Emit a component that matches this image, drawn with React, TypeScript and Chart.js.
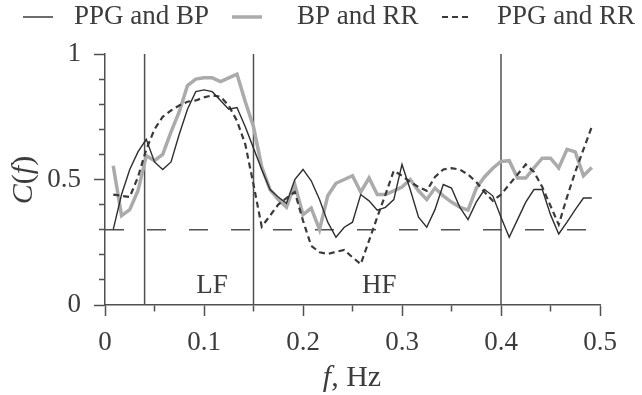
import { useEffect, useRef } from 'react';
import { Chart, registerables } from 'chart.js';

Chart.register(...registerables);

// Frequency grid (Hz)
const FREQ = [
  0.0083, 0.0167, 0.025, 0.0333, 0.0417, 0.05, 0.0583, 0.0667, 0.075, 0.0833,
  0.0917, 0.1, 0.1083, 0.1167, 0.125, 0.1333, 0.1417, 0.15, 0.1583, 0.1667,
  0.175, 0.1833, 0.1917, 0.2, 0.2083, 0.2167, 0.225, 0.2333, 0.2417, 0.25,
  0.2583, 0.2667, 0.275, 0.2833, 0.2917, 0.3, 0.3083, 0.3167, 0.325, 0.3333,
  0.3417, 0.35, 0.3583, 0.3667, 0.375, 0.3833, 0.3917, 0.4, 0.4083, 0.4167,
  0.425, 0.4333, 0.4417, 0.45, 0.4583, 0.4667, 0.475, 0.4833, 0.4917,
];

const PPG_BP = [
  0.30, 0.44, 0.54, 0.61, 0.66, 0.57, 0.54, 0.57, 0.68, 0.78,
  0.85, 0.857, 0.85, 0.815, 0.78, 0.787, 0.71, 0.625, 0.54, 0.46,
  0.43, 0.405, 0.50, 0.54, 0.495, 0.42, 0.33, 0.27, 0.31, 0.33,
  0.44, 0.415, 0.378, 0.389, 0.42, 0.56, 0.46, 0.35, 0.31, 0.38,
  0.48, 0.466, 0.39, 0.34, 0.41, 0.46, 0.435, 0.35, 0.27, 0.34,
  0.41, 0.46, 0.46, 0.36, 0.283, 0.33, 0.38, 0.426, 0.426,
];

const BP_RR = [
  0.555, 0.356, 0.38, 0.455, 0.595, 0.575, 0.60, 0.69, 0.77, 0.874,
  0.90, 0.905, 0.905, 0.89, 0.905, 0.92, 0.81, 0.71, 0.55, 0.46,
  0.42, 0.39, 0.48, 0.36, 0.386, 0.30, 0.435, 0.485, 0.50, 0.515,
  0.45, 0.506, 0.44, 0.44, 0.455, 0.47, 0.50, 0.455, 0.42, 0.466,
  0.435, 0.41, 0.39, 0.378, 0.465, 0.51, 0.545, 0.572, 0.575, 0.506,
  0.506, 0.546, 0.585, 0.585, 0.546, 0.62, 0.61, 0.515, 0.548,
];

const PPG_RR = [
  0.44, 0.435, 0.43, 0.51, 0.62, 0.70, 0.75, 0.775, 0.795, 0.81,
  0.815, 0.827, 0.835, 0.83, 0.794, 0.734, 0.64, 0.48, 0.312, 0.356,
  0.40, 0.426, 0.45, 0.336, 0.236, 0.21, 0.203, 0.212, 0.219, 0.19,
  0.163, 0.256, 0.35, 0.44, 0.535, 0.515, 0.49, 0.47, 0.455, 0.51,
  0.54, 0.545, 0.54, 0.52, 0.49, 0.45, 0.415, 0.44, 0.48, 0.52,
  0.56, 0.53, 0.47, 0.395, 0.32, 0.43, 0.53, 0.62, 0.71,
];

const SERIES_NAMES = ['PPG and BP', 'BP and RR', 'PPG and RR'];
const BAND_EDGES = [0.04, 0.15, 0.4];
const THRESHOLD = 0.3;
const BAND_NAMES = ['LF', 'HF'];

const FAMILY = "'Liberation Serif', 'Times New Roman', serif";
const TEXT = '#3c3c3c';
const AXIS = '#505050';
const FS = 27;
const TITLE_FS = 30;

function drawRich(ctx: CanvasRenderingContext2D, parts: [string, boolean][], cx: number, cy: number, size: number) {
  const widths = parts.map(([t, it]) => {
    ctx.font = `${it ? 'italic ' : ''}${size}px ${FAMILY}`;
    return ctx.measureText(t).width;
  });
  const total = widths.reduce((a, b) => a + b, 0);
  let x = cx - total / 2;
  ctx.textAlign = 'left';
  parts.forEach(([t, it], i) => {
    ctx.font = `${it ? 'italic ' : ''}${size}px ${FAMILY}`;
    ctx.fillText(t, x, cy);
    x += widths[i];
  });
}

const overlay = {
  id: 'overlay',
  afterDraw(chart: any) {
    const ctx: CanvasRenderingContext2D = chart.ctx;
    const xs = chart.scales.x;
    const ys = chart.scales.y;
    ctx.save();
    ctx.fillStyle = TEXT;
    ctx.textBaseline = 'middle';
    ctx.textAlign = 'center';
    ctx.font = `${FS}px ${FAMILY}`;
    ctx.fillText(BAND_NAMES[0], xs.getPixelForValue(0.108), ys.getPixelForValue(0.076));
    ctx.fillText(BAND_NAMES[1], xs.getPixelForValue(0.277), ys.getPixelForValue(0.076));

    // legend
    const items = [
      { x0: 23, x1: 53, tx: 74, color: '#2e2e2e', w: 1.4, dash: [] as number[] },
      { x0: 232, x1: 262, tx: 297, color: '#ababab', w: 3.5, dash: [] as number[] },
      { x0: 442, x1: 471, tx: 497, color: '#3a3a3a', w: 2.2, dash: [6, 4] },
    ];
    const ly = 17;
    items.forEach((it, i) => {
      ctx.beginPath();
      ctx.setLineDash(it.dash);
      ctx.strokeStyle = it.color;
      ctx.lineWidth = it.w;
      ctx.moveTo(it.x0, ly);
      ctx.lineTo(it.x1, ly);
      ctx.stroke();
      ctx.setLineDash([]);
      ctx.textAlign = 'left';
      ctx.font = `${FS}px ${FAMILY}`;
      ctx.fillText(SERIES_NAMES[i], it.tx, ly);
    });

    // axis titles
    drawRich(ctx, [['f', true], [', Hz', false]], 352, 378, TITLE_FS);
    ctx.translate(24, 180);
    ctx.rotate(-Math.PI / 2);
    drawRich(ctx, [['C', true], ['(', false], ['f', true], [')', false]], 0, 0, TITLE_FS);
    ctx.restore();
  },
};

const isMult = (v: number, step: number) => {
  const r = v / step;
  return Math.abs(r - Math.round(r)) < 1e-6;
};

export default function App() {
  const ref = useRef<HTMLCanvasElement>(null);
  useEffect(() => {
    const canvas = ref.current!;
    const pts = (ys: number[]) => FREQ.map((f, i) => ({ x: f, y: ys[i] }));
    const vlines = BAND_EDGES.map((f) => ({
      data: [{ x: f, y: 0 }, { x: f, y: 1 }],
      borderColor: AXIS,
      borderWidth: 1.5,
      pointRadius: 0,
      order: 5,
    }));
    const chart = new Chart(canvas, {
      type: 'line',
      data: {
        datasets: [
          { label: SERIES_NAMES[0], data: pts(PPG_BP), borderColor: '#2e2e2e', borderWidth: 1.4, pointRadius: 0, order: 1 },
          { label: SERIES_NAMES[2], data: pts(PPG_RR), borderColor: '#3a3a3a', borderWidth: 2.2, borderDash: [6, 4], pointRadius: 0, order: 2 },
          { label: SERIES_NAMES[1], data: pts(BP_RR), borderColor: '#ababab', borderWidth: 3.5, pointRadius: 0, order: 3 },
          ...vlines,
          {
            data: [{ x: 0, y: THRESHOLD }, { x: 0.5, y: THRESHOLD }],
            borderColor: AXIS,
            borderWidth: 1.5,
            borderDash: [19, 23],
            pointRadius: 0,
            order: 6,
          },
        ] as any,
      },
      options: {
        animation: false,
        responsive: false,
        events: [],
        layout: { padding: { left: 0, right: 42, top: 54, bottom: 0 } },
        plugins: { legend: { display: false }, tooltip: { enabled: false } },
        scales: {
          x: {
            type: 'linear',
            min: 0,
            max: 0.5,
            border: { display: true, color: AXIS, width: 1.5 },
            grid: {
              drawOnChartArea: false,
              drawTicks: true,
              tickLength: 11,
              tickColor: AXIS,
              tickWidth: 1.5,
              tickBorderDash: (c: any) => (isMult(c.tick.value, 0.1) ? [] : [6, 100]),
            } as any,
            ticks: {
              stepSize: 0.05,
              autoSkip: false,
              maxRotation: 0,
              padding: 11,
              color: TEXT,
              font: { family: FAMILY, size: FS },
              callback: (v: any) => {
                const n = Number(v);
                if (!isMult(n, 0.1)) return '';
                const r = Math.round(n * 10);
                return r === 0 ? '0' : String(r / 10);
              },
            },
            afterFit: (s: any) => {
              s.height = 90;
            },
          },
          y: {
            type: 'linear',
            min: 0,
            max: 1,
            border: { display: true, color: AXIS, width: 1.5 },
            grid: {
              drawOnChartArea: false,
              drawTicks: true,
              tickLength: 11,
              tickColor: AXIS,
              tickWidth: 1.5,
              tickBorderDash: (c: any) => (isMult(c.tick.value, 0.5) ? [] : [0, 5, 6, 100]),
            } as any,
            ticks: {
              stepSize: 0.1,
              autoSkip: false,
              padding: 13,
              color: TEXT,
              font: { family: FAMILY, size: FS },
              callback: (v: any) => {
                const n = Number(v);
                if (!isMult(n, 0.5)) return '';
                const r = Math.round(n * 10);
                return r === 0 ? '0' : String(r / 10);
              },
            },
            afterFit: (s: any) => {
              s.width = 105;
            },
          },
        },
      } as any,
      plugins: [overlay],
    });
    return () => chart.destroy();
  }, []);

  return (
    <canvas
      ref={ref}
      width={642}
      height={395}
      style={{ position: 'absolute', left: 0, top: 0, width: 642, height: 395, display: 'block', background: '#fff' }}
    />
  );
}
